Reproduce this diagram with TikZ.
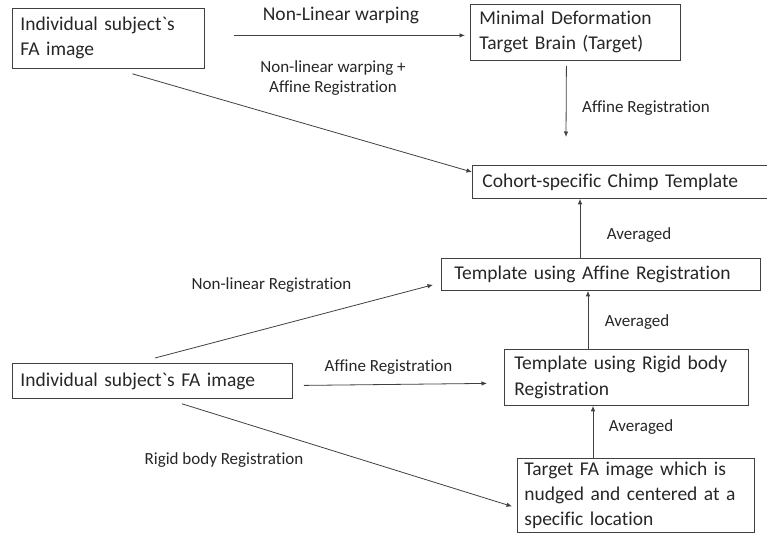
\documentclass[tikz,border=0pt]{standalone}
\usepackage{fontspec}
\setmainfont{Carlito}[Ligatures={TeXOff,CommonOff}]
\usetikzlibrary{arrows.meta}
\newcommand{\grv}{\symbol{96}}
\begin{document}
\begin{tikzpicture}[x=1pt,y=-1pt,
        box/.style={draw=black!75, line width=0.8pt, anchor=north west, align=left,
            inner ysep=0pt, text=black!85, font=\fontsize{19.5}{25}\selectfont},
        lbl/.style={inner sep=0pt, text=black!85, font=\fontsize{17}{20}\selectfont},
        arr/.style={draw=black!75, line width=0.8pt, -{Latex[length=5.5pt,width=4.5pt]}}]
        \path[use as bounding box, clip] (0,0) rectangle (767,535);
        \node[box, inner xsep=8pt, text width=176pt, minimum height=60pt] (subjA) at (12,8) {Individual subject\grv s\\FA image};
        \node[box, inner xsep=9pt, text width=192pt, minimum height=56pt] (target) at (470,4) {Minimal Deformation\\Target Brain (Target)};
        \node[box, inner xsep=10pt, text width=280pt, minimum height=33pt] (cohort) at (472,165) {Cohort-specific Chimp Template};
        \node[box, inner xsep=13pt, text width=293pt, minimum height=32pt] (affine) at (441,258) {Template using Affine Registration};
        \node[box, inner xsep=10pt, text width=224pt, minimum height=56pt] (rigid) at (504,349) {Template using Rigid body\\Registration};
        \node[box, inner xsep=8pt, text width=264pt, minimum height=35pt] (subjB) at (12,363) {Individual subject\grv s FA image};
        \node[box, inner xsep=7pt, text width=223pt, minimum height=74pt] (nudged) at (517,458) {Target FA image which is\\nudged and centered at a\\specific location};
        \node[lbl, font=\fontsize{19.5}{24}\selectfont] (warp) at (341,15) {Non-Linear warping};
        \node[lbl, align=center] (warpaff) at (333,78) {Non-linear warping +\\Affine Registration};
        \node[lbl] (affA) at (646,108) {Affine Registration};
        \node[lbl] (avgA) at (639,235) {Averaged};
        \node[lbl] (avgB) at (637,322) {Averaged};
        \node[lbl] (avgC) at (641,427) {Averaged};
        \node[lbl] (nonlin) at (271.5,285) {Non-linear Registration};
        \node[lbl] (affB) at (388.5,367) {Affine Registration};
        \node[lbl] (rigreg) at (224,460) {Rigid body Registration};
        \draw[arr] ([xshift=29pt,yshift=3pt]subjA.east) -- ([xshift=-5pt,yshift=-3pt]target.west);
        \draw[arr] ([xshift=24pt,yshift=-5pt]subjA.south) -- ([yshift=-7pt]cohort.north west);
        \draw[arr] ([xshift=-9pt,yshift=-5pt]target.south) -- ([xshift=94pt,yshift=28pt]cohort.north west);
        \draw[arr] ([xshift=139pt]affine.north west) -- ([xshift=108pt]cohort.south west);
        \draw[arr] ([xshift=84pt]rigid.north west) -- ([xshift=147pt]affine.south west);
        \draw[arr] ([xshift=76pt]nudged.north west) -- ([xshift=89pt]rigid.south west);
        \draw[arr] ([xshift=143pt,yshift=5pt]subjB.north west) -- ([xshift=-8pt,yshift=6pt]affine.south west);
        \draw[arr] ([xshift=11pt,yshift=-4.5pt]subjB.east) -- ([xshift=-17pt,yshift=-6pt]rigid.west);
        \draw[arr] ([xshift=170pt,yshift=-5pt]subjB.south west) -- ([xshift=-5pt,yshift=-11pt]nudged.west);
    \end{tikzpicture}
\end{document}
